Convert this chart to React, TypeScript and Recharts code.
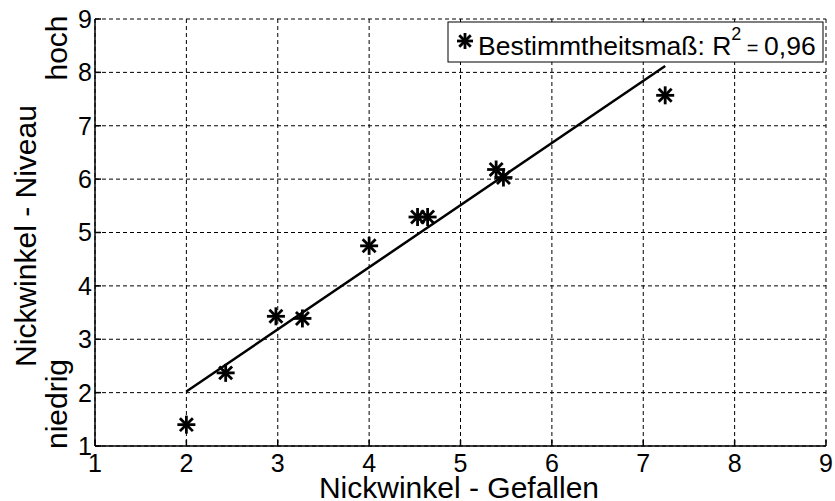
import { ScatterChart, Scatter, XAxis, YAxis, CartesianGrid } from 'recharts';

// Messwerte
const gefallen = [2.0, 2.43, 2.98, 3.27, 4.0, 4.53, 4.64, 5.39, 5.47, 7.24];
const niveau = [1.4, 2.37, 3.43, 3.39, 4.75, 5.29, 5.29, 6.18, 6.03, 7.57];

// Regressionsgerade
const fitX = [2.0, 7.24];
const fitY = [2.02, 8.12];

const ticks = [1, 2, 3, 4, 5, 6, 7, 8, 9];

const points = gefallen.map((x, i) => ({ x, y: niveau[i] }));
const fit = fitX.map((x, i) => ({ x, y: fitY[i] }));

const font = 'Liberation Sans, Arial, Helvetica, sans-serif';

function Star({ cx, cy, r = 9 }: { cx: number; cy: number; r?: number }) {
  const d = r * 0.72;
  return (
    <g stroke="#000" strokeWidth={2.8}>
      <line x1={cx} y1={cy - r} x2={cx} y2={cy + r} />
      <line x1={cx - r} y1={cy} x2={cx + r} y2={cy} />
      <line x1={cx - d} y1={cy - d} x2={cx + d} y2={cy + d} />
      <line x1={cx - d} y1={cy + d} x2={cx + d} y2={cy - d} />
    </g>
  );
}

export default function App() {
  return (
    <div style={{ position: 'absolute', left: 0, top: 0, background: '#fff' }}>
      <ScatterChart width={835} height={501} margin={{ top: 19, right: 9, bottom: 25, left: 35 }}>
        <CartesianGrid stroke="#000" strokeDasharray="4 3" strokeWidth={1} />
        <XAxis
          type="number"
          dataKey="x"
          domain={[1, 9]}
          ticks={ticks}
          height={30}
          stroke="#000"
          strokeWidth={1.5}
          tickSize={-6}
          tickMargin={14}
          tick={{ fill: '#000', fontSize: 25, fontFamily: font }}
        />
        <XAxis
          xAxisId="top"
          orientation="top"
          type="number"
          dataKey="x"
          domain={[1, 9]}
          ticks={ticks}
          height={0}
          stroke="#000"
          strokeWidth={1.5}
          tickSize={-6}
          tick={false}
        />
        <YAxis
          type="number"
          dataKey="y"
          domain={[1, 9]}
          ticks={ticks}
          width={60}
          stroke="#000"
          strokeWidth={1.5}
          tickSize={-6}
          tickMargin={9}
          tick={{ fill: '#000', fontSize: 25, fontFamily: font }}
        />
        <YAxis
          yAxisId="right"
          orientation="right"
          type="number"
          dataKey="y"
          domain={[1, 9]}
          ticks={ticks}
          width={0}
          stroke="#000"
          strokeWidth={1.5}
          tickSize={-6}
          tick={false}
        />
        <Scatter
          data={fit}
          line={{ stroke: '#000', strokeWidth: 2.5 }}
          shape={() => <g />}
          isAnimationActive={false}
        />
        <Scatter data={points} shape={(p: any) => <Star cx={p.cx} cy={p.cy} />} isAnimationActive={false} />

        {/* Legende */}
        <g>
          <rect x={448} y={22} width={375} height={40} fill="#fff" stroke="#000" strokeWidth={1} />
          <Star cx={465} cy={41} r={8} />
          <text x={478} y={55} fontSize={26.5} fontFamily={font} fill="#000">
            Bestimmtheitsmaß: R
            <tspan fontSize={18} dy={-15}>2</tspan>
            <tspan fontSize={20} dy={15}> = </tspan>
            <tspan>0,96</tspan>
          </text>
        </g>

        {/* Achsenbeschriftungen */}
        <text x={459} y={498} textAnchor="middle" fontSize={30} fontFamily={font} fill="#000">
          Nickwinkel - Gefallen
        </text>
        <text
          x={36}
          y={236}
          transform="rotate(-90 36 236)"
          textAnchor="middle"
          fontSize={30}
          fontFamily={font}
          fill="#000"
        >
          Nickwinkel - Niveau
        </text>
        <text x={67} y={48} transform="rotate(-90 67 48)" textAnchor="middle" fontSize={30} fontFamily={font} fill="#000">
          hoch
        </text>
        <text x={67} y={404} transform="rotate(-90 67 404)" textAnchor="middle" fontSize={30} fontFamily={font} fill="#000">
          niedrig
        </text>
      </ScatterChart>
    </div>
  );
}
